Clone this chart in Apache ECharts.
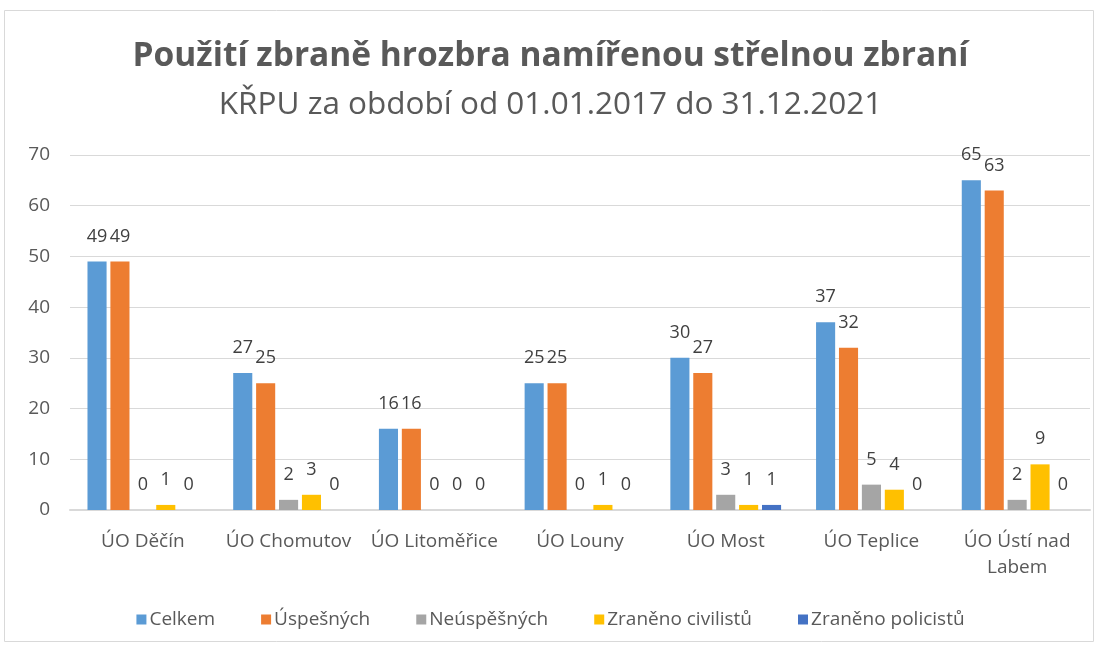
<!DOCTYPE html>
<html><head><meta charset="utf-8">
<script src="https://cdn.jsdelivr.net/npm/echarts@6/dist/echarts.min.js"></script>
<style>html,body{margin:0;padding:0;background:#fff}#c{width:1101px;height:650px}</style>
</head><body><div id="c"></div>
<script>
const categories = ['ÚO Děčín','ÚO Chomutov','ÚO Litoměřice','ÚO Louny','ÚO Most','ÚO Teplice','ÚO Ústí nad\nLabem'];
const seriesNames = ['Celkem','Úspešných','Neúspěšných','Zraněno civilistů','Zraněno policistů'];
const celkem = [49,27,16,25,30,37,65];
const uspesnych = [49,25,16,25,27,32,63];
const neuspesnych = [0,2,0,0,3,5,2];
const civiliste = [1,3,0,1,1,4,9];
const policiste = [0,0,0,0,1,0,0];
const yTicks = [0,10,20,30,40,50,60,70];
const colors = ['#5B9BD5','#ED7D31','#A5A5A5','#FFC000','#4472C4'];
const values = [celkem, uspesnych, neuspesnych, civiliste, policiste];
const FONT = '"Open Sans", sans-serif';

const chart = echarts.init(document.getElementById('c'), null, {renderer:'canvas'});
chart.setOption({
  animation:false,
  textStyle:{fontFamily:FONT},
  graphic:[{type:'rect', shape:{x:4.5,y:10.5,width:1089,height:631}, style:{fill:'none', stroke:'#d9d9d9', lineWidth:1}, silent:true}],
  title:[
    {text:'Použití zbraně hrozbra namířenou střelnou zbraní', left:'center', top:34,
     textStyle:{fontFamily:FONT, fontSize:33.5, fontWeight:'bold', color:'#595959'}},
    {text:'KŘPU za období od 01.01.2017 do 31.12.2021', left:'center', top:84,
     textStyle:{fontFamily:FONT, fontSize:31.5, fontWeight:'normal', color:'#595959'}}
  ],
  legend:{top:605, left:'center', itemWidth:10, itemHeight:10, itemGap:46, icon:'rect',
    textStyle:{fontFamily:FONT, fontSize:19, color:'#595959', padding:[0,0,0,-2]}, data:seriesNames},
  grid:{left:70, right:11, top:155, bottom:140},
  xAxis:{type:'category', data:categories,
    axisLine:{lineStyle:{color:'#d9d9d9', width:2}}, axisTick:{show:false},
    axisLabel:{fontFamily:FONT, fontSize:19, color:'#595959', margin:19, interval:0, lineHeight:26}},
  yAxis:{type:'value', min:yTicks[0], max:yTicks[yTicks.length-1], interval:10,
    axisLine:{show:false}, axisTick:{show:false},
    axisLabel:{fontFamily:FONT, fontSize:19, color:'#595959', margin:20},
    splitLine:{lineStyle:{color:'#d9d9d9', width:1}}},
  series: seriesNames.map((n,i)=>({
    name:n, type:'bar', data:values[i], barGap:'20%', barCategoryGap:'24%',
    itemStyle:{color:colors[i]},
    label:{show:true, position:'top', distance:16, fontFamily:FONT, fontSize:18, color:'#404040'}
  }))
});
</script></body></html>
